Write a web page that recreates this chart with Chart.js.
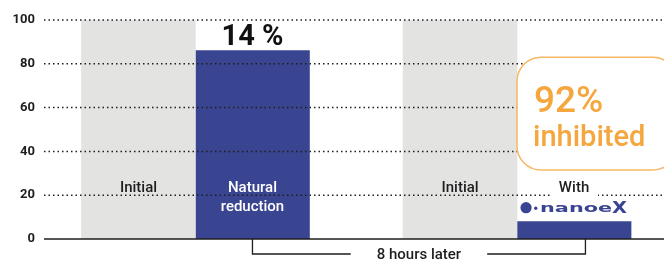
<!DOCTYPE html>
<html><head><meta charset="utf-8">
<script src="https://cdn.jsdelivr.net/npm/chart.js@4/dist/chart.umd.min.js"></script>
<style>html,body{margin:0;padding:0;background:#fff;overflow:hidden}#wrap{width:664px;height:262px;position:relative}</style>
</head><body><div id="wrap"><canvas id="c" width="664" height="262"></canvas></div>
<script>
// ---- data ----
const groups = [1, 2];                       // the two comparisons
const initialLabels = ['Initial', 'Initial'];
const afterLabels = [['Natural', 'reduction'], ['With']];
const initialValues = [100, 100];
const afterValues = [86, 8];
const yTicks = [0, 20, 40, 60, 80, 100];
const reductionLabel = '14 %';
const inhibitLabel = ['92%', 'inhibited'];
const periodLabel = '8 hours later';
const logoText = ['nanoe', 'X'];

// ---- style ----
const GRAY = '#e3e4e2';
const BLUE = '#3a4592';
const ORANGE = '#f5a63d';
const INK = '#1e1e1e';
const FONT = 'Roboto, "DejaVu Sans", sans-serif';

function dotted(ctx, area, y) {
  ctx.save();
  ctx.strokeStyle = INK;
  ctx.lineWidth = 1.5;
  ctx.setLineDash([1.5, 3]);
  ctx.beginPath();
  ctx.moveTo(area.left, y);
  ctx.lineTo(area.right, y);
  ctx.stroke();
  ctx.restore();
}

function roundRect(ctx, x, y, w, h, r) {
  ctx.beginPath();
  ctx.moveTo(x + r, y);
  ctx.lineTo(x + w - r, y);
  ctx.arcTo(x + w, y, x + w, y + r, r);
  ctx.lineTo(x + w, y + h - r);
  ctx.arcTo(x + w, y + h, x + w - r, y + h, r);
  ctx.lineTo(x + r, y + h);
  ctx.arcTo(x, y + h, x, y + h - r, r);
  ctx.lineTo(x, y + r);
  ctx.arcTo(x, y, x + r, y, r);
  ctx.closePath();
}

const deco = {
  id: 'deco',
  afterDatasetDraw(chart, args) {
    if (args.index !== 0) return;
    const ys = chart.scales.y, area = chart.chartArea;
    yTicks.forEach(v => { if (v > 20) dotted(chart.ctx, area, ys.getPixelForValue(v)); });
  },
  afterDatasetsDraw(chart) {
    const ctx = chart.ctx, ys = chart.scales.y, area = chart.chartArea;
    const g = chart.getDatasetMeta(0).data, b = chart.getDatasetMeta(1).data;
    // lowest grid line runs over everything
    dotted(ctx, area, ys.getPixelForValue(20));
    // baseline
    ctx.save();
    ctx.strokeStyle = INK; ctx.lineWidth = 1.5;
    ctx.beginPath();
    const y0 = ys.getPixelForValue(0);
    ctx.moveTo(area.left, y0); ctx.lineTo(area.right, y0); ctx.stroke();
    ctx.restore();

    ctx.save();
    ctx.textAlign = 'center';
    ctx.textBaseline = 'alphabetic';
    const labelY = ys.getPixelForValue(20) - 3;
    // Initial labels
    ctx.fillStyle = INK;
    ctx.font = '500 15px ' + FONT;
    g.forEach((el, i) => ctx.fillText(initialLabels[i], el.x, labelY));
    // white box behind "With"
    const b2 = b[1];
    ctx.fillStyle = '#fff';
    ctx.fillRect(b2.x - 24, labelY - 16, 48, 24);
    b.forEach((el, i) => {
      ctx.fillStyle = afterValues[i] > 30 ? '#fff' : INK;
      afterLabels[i].forEach((t, k) => ctx.fillText(t, el.x, labelY + k * 18.5));
    });
    // 14 %
    ctx.fillStyle = '#111';
    ctx.font = 'bold 29px ' + FONT;
    ctx.fillText(reductionLabel, b[0].x, b[0].y - 6);

    // nanoe X logo
    const lx = b2.x - b2.width / 2;
    const ly = labelY + 15.5;
    ctx.fillStyle = BLUE;
    ctx.beginPath(); ctx.arc(lx + 9, ly, 5.6, 0, Math.PI * 2); ctx.fill();
    ctx.beginPath(); ctx.arc(lx + 18.7, ly + 0.5, 1.7, 0, Math.PI * 2); ctx.fill();
    ctx.save();
    ctx.translate(lx + 23, ly + 4.5);
    ctx.scale(1.6, 1);
    ctx.textAlign = 'left';
    ctx.font = '600 13px "DejaVu Sans", sans-serif';
    ctx.fillText(logoText[0], 0, 0);
    ctx.restore();
    ctx.save();
    ctx.translate(lx + 95, ly + 5.5);
    ctx.scale(1.3, 1);
    ctx.textAlign = 'left';
    ctx.font = 'bold 15px "DejaVu Sans", sans-serif';
    ctx.fillText(logoText[1], 0, 0);
    ctx.restore();

    // orange rounded box
    const bx = lx, by = ys.getPixelForValue(83), bh = ys.getPixelForValue(31.5) - by;
    ctx.fillStyle = '#fff';
    roundRect(ctx, bx, by, 160, bh, 24);
    ctx.fill();
    ctx.strokeStyle = '#f8b865'; ctx.lineWidth = 1.5;
    ctx.stroke();
    ctx.fillStyle = ORANGE;
    ctx.textAlign = 'left';
    ctx.font = '500 37px ' + FONT;
    ctx.fillText(inhibitLabel[0], bx + 17, by + 55);
    ctx.font = '500 29px ' + FONT;
    ctx.fillText(inhibitLabel[1], bx + 16, by + 89);

    // bracket "8 hours later"
    const x1 = b[0].x, x2 = b2.x + b2.width * 0.1;
    const yb = y0 + 15;
    ctx.font = '500 15px ' + FONT;
    const mid = (x1 + x2) / 2;
    const tw = ctx.measureText(periodLabel).width;
    const gap = 26;
    ctx.strokeStyle = INK; ctx.lineWidth = 1.3;
    ctx.beginPath();
    ctx.moveTo(x1, y0); ctx.lineTo(x1, yb); ctx.lineTo(mid - tw / 2 - gap, yb);
    ctx.moveTo(mid + tw / 2 + gap, yb); ctx.lineTo(x2, yb); ctx.lineTo(x2, y0);
    ctx.stroke();
    ctx.fillStyle = INK;
    ctx.textAlign = 'center';
    ctx.textBaseline = 'middle';
    ctx.fillText(periodLabel, mid, yb + 1);
    ctx.restore();
  }
};

new Chart(document.getElementById('c'), {
  type: 'bar',
  data: {
    datasets: [
      { label: 'Initial', data: groups.map((x, i) => ({ x, y: initialValues[i] })), backgroundColor: GRAY, barThickness: 114 },
      { label: '8 hours later', data: groups.map((x, i) => ({ x, y: afterValues[i] })), backgroundColor: BLUE, barThickness: 114 }
    ]
  },
  options: {
    responsive: false, animation: false, devicePixelRatio: 1,
    layout: { padding: { top: 20, bottom: 23, left: 0, right: 0 } },
    plugins: { legend: { display: false }, tooltip: { enabled: false } },
    scales: {
      x: { type: 'linear', min: 0.529, max: 2.457, display: false, offset: false },
      y: {
        min: 0, max: 100,
        afterBuildTicks: s => { s.ticks = yTicks.map(v => ({ value: v })); },
        grid: { display: false, drawTicks: false },
        border: { display: false },
        ticks: { color: INK, padding: 9, font: { family: FONT, size: 13, weight: 'bold' } },
        afterFit: s => { s.width = 44; }
      }
    }
  },
  plugins: [deco]
});
</script>
</body></html>
